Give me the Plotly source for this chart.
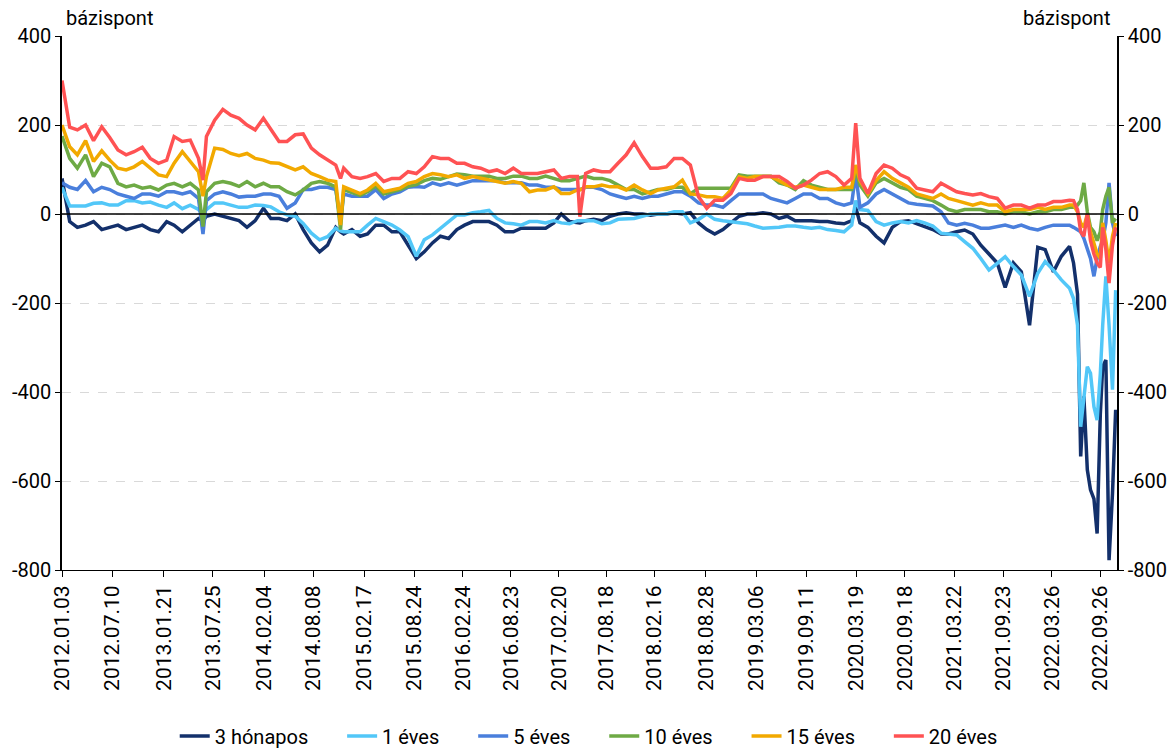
import plotly.graph_objects as go

# Observation dates (monthly, with a few extra dates around sharp moves)
dates = (
    ["2012-01-03", "2012-02-01", "2012-03-01", "2012-04-01", "2012-05-01", "2012-06-01",
     "2012-07-01", "2012-08-01", "2012-09-01", "2012-10-01", "2012-11-01", "2012-12-01"]
    + ["2013-01-01", "2013-02-01", "2013-03-01", "2013-04-01", "2013-05-01", "2013-06-01", "2013-06-18",
       "2013-07-01", "2013-08-01", "2013-09-01", "2013-10-01", "2013-11-01", "2013-12-01"]
    + ["2014-01-01", "2014-02-01", "2014-03-01", "2014-04-01", "2014-05-01", "2014-06-01",
       "2014-07-01", "2014-08-01", "2014-09-01", "2014-10-01", "2014-11-01", "2014-11-19", "2014-12-01"]
    + ["2015-01-01", "2015-02-01", "2015-03-01", "2015-04-01", "2015-05-01", "2015-06-01",
       "2015-07-01", "2015-08-01", "2015-09-01", "2015-10-01", "2015-11-01", "2015-12-01"]
    + ["2016-01-01", "2016-02-01", "2016-03-01", "2016-04-01", "2016-05-01", "2016-06-01",
       "2016-07-01", "2016-08-01", "2016-09-01", "2016-10-01", "2016-11-01", "2016-12-01"]
    + ["2017-01-01", "2017-02-01", "2017-03-01", "2017-04-01", "2017-05-01", "2017-05-10",
       "2017-06-01", "2017-07-01", "2017-08-01", "2017-09-01", "2017-10-01", "2017-11-01", "2017-12-01"]
    + ["2018-01-01", "2018-02-01", "2018-03-01", "2018-04-01", "2018-05-01", "2018-06-01",
       "2018-07-01", "2018-08-01", "2018-09-01", "2018-10-01", "2018-11-01", "2018-12-01"]
    + ["2019-01-01", "2019-02-01", "2019-03-01", "2019-04-01", "2019-05-01", "2019-06-01",
       "2019-07-01", "2019-08-01", "2019-09-01", "2019-10-01", "2019-11-01", "2019-12-01"]
    + ["2020-01-01", "2020-02-01", "2020-03-01", "2020-03-16", "2020-04-01", "2020-05-01",
       "2020-06-01", "2020-07-01", "2020-08-01", "2020-09-01", "2020-10-01", "2020-11-01", "2020-12-01"]
    + ["2021-01-01", "2021-02-01", "2021-03-01", "2021-04-01", "2021-05-01", "2021-06-01",
       "2021-07-01", "2021-08-01", "2021-09-01", "2021-10-01", "2021-11-01", "2021-12-01"]
    + ["2022-01-01", "2022-02-01", "2022-03-01", "2022-04-01", "2022-05-01", "2022-06-01",
       "2022-06-16", "2022-07-01", "2022-07-13", "2022-07-25", "2022-08-07", "2022-08-19",
       "2022-09-01", "2022-09-13", "2022-09-25", "2022-10-04", "2022-10-16", "2022-10-28",
       "2022-11-10", "2022-11-22"]
)

# Spreads in basis points
honapos_3 = (
    [80, -17, -30, -25, -17, -35, -30, -25, -35, -30, -25, -35]
    + [-40, -17, -25, -40, -25, -10, -15, -5, 0, -5, -8, -15, -30]
    + [-15, 13, -10, -10, -15, 0, -35, -65, -85, -70, -30, -40, -45]
    + [-35, -50, -45, -25, -25, -40, -40, -70, -100, -85, -65, -50]
    + [-55, -35, -25, -17, -17, -17, -25, -40, -40, -32, -32, -32]
    + [-32, -20, 0, -17, -20, -20, -15, -12, -15, -5, 0, 3, 0]
    + [0, -3, 0, 0, 3, 0, 3, -20, -35, -45, -35, -20]
    + [-5, 0, 0, 3, 0, -10, -5, -15, -15, -15, -17, -17]
    + [-20, -22, -15, 15, -20, -30, -50, -65, -30, -17, -15, -22, -30]
    + [-35, -45, -45, -40, -36, -45, -70, -90, -110, -165, -110, -130]
    + [-250, -75, -80, -130, -95, -73, -110, -180, -545, -410, -575, -620,
       -640, -718, -450, -343, -328, -778, -628, -440]
)

eves_1 = (
    [60, 18, 18, 18, 24, 25, 20, 20, 30, 30, 25, 27]
    + [20, 15, 25, 12, 20, 10, 2, 10, 25, 25, 20, 15, 15]
    + [20, 19, 16, 5, -2, -5, -21, -43, -58, -51, -32, -38, -40]
    + [-40, -40, -25, -10, -17, -25, -36, -51, -95, -58, -47, -32]
    + [-17, -2, -2, 3, 5, 8, -10, -20, -22, -25, -17, -17]
    + [-20, -15, -20, -22, -15, -15, -15, -15, -22, -20, -12, -10, -10]
    + [-5, 0, 0, 0, 5, 5, -20, -12, 0, -12, -15, -17]
    + [-20, -22, -27, -32, -31, -30, -27, -27, -30, -32, -30, -35]
    + [-37, -40, -25, 30, 10, 8, -17, -25, -20, -17, -20, -15, -20]
    + [-27, -43, -45, -47, -62, -77, -100, -126, -111, -96, -118, -137]
    + [-185, -133, -107, -126, -148, -167, -190, -250, -478, -418, -343, -358,
       -433, -463, -360, -250, -140, -250, -395, -171]
)

eves_5 = (
    [70, 60, 55, 75, 50, 60, 55, 45, 40, 35, 45, 45]
    + [40, 50, 50, 45, 50, 35, -45, 30, 45, 50, 45, 38, 40]
    + [40, 45, 45, 40, 13, 25, 55, 55, 60, 60, 55, -15, 45]
    + [40, 40, 40, 55, 35, 45, 50, 60, 62, 60, 70, 65]
    + [70, 65, 70, 75, 75, 75, 75, 70, 70, 70, 65, 65]
    + [60, 60, 55, 55, 55, 55, 60, 60, 55, 45, 40, 35, 40]
    + [35, 40, 40, 45, 50, 50, 40, 25, 20, 20, 15, 30]
    + [45, 45, 45, 45, 35, 30, 25, 35, 45, 45, 35, 35]
    + [25, 20, 25, 90, 15, 25, 45, 55, 45, 35, 25, 22, 20]
    + [18, 5, -20, -25, -21, -25, -32, -32, -28, -25, -30, -25]
    + [-32, -36, -30, -25, -25, -25, -30, -36, -40, -55, -80, -100,
       -140, -100, -73, -60, -20, 70, -20, -50]
)

eves_10 = (
    [175, 125, 103, 133, 84, 114, 106, 69, 61, 65, 58, 61]
    + [54, 65, 69, 61, 69, 54, -28, 50, 69, 73, 69, 62, 73]
    + [61, 69, 61, 61, 50, 43, 54, 69, 73, 69, 61, -35, 55]
    + [48, 42, 50, 63, 45, 50, 55, 62, 66, 75, 80, 78]
    + [85, 90, 88, 85, 85, 85, 80, 80, 85, 85, 80, 80]
    + [85, 80, 75, 75, 80, 80, 85, 80, 80, 75, 65, 55, 55]
    + [45, 50, 55, 55, 60, 60, 45, 58, 58, 58, 58, 58]
    + [88, 85, 85, 85, 85, 70, 65, 55, 75, 65, 60, 55]
    + [55, 55, 55, 100, 65, 40, 70, 80, 70, 60, 55, 40, 35]
    + [30, 20, 10, 5, 10, 10, 10, 5, 5, 0, 5, 5]
    + [0, 5, 5, 10, 10, 15, 15, 20, 30, 70, 5, -30,
       -40, -60, -40, 10, 40, 60, -20, -10]
)

eves_15 = (
    [200, 151, 133, 165, 118, 142, 121, 103, 99, 106, 118, 103]
    + [88, 84, 114, 140, 118, 95, 40, 84, 148, 145, 136, 131, 136]
    + [125, 121, 115, 114, 106, 99, 106, 91, 84, 76, 73, -25, 61]
    + [54, 46, 54, 69, 50, 54, 58, 69, 73, 84, 91, 88]
    + [84, 88, 80, 84, 80, 76, 73, 69, 73, 69, 50, 54]
    + [54, 61, 46, 46, 54, 54, 61, 61, 65, 61, 61, 54, 65]
    + [54, 46, 54, 58, 61, 76, 45, 43, 39, 39, 35, 54]
    + [84, 80, 84, 84, 84, 75, 65, 60, 65, 60, 55, 55]
    + [55, 60, 60, 110, 75, 45, 75, 95, 80, 70, 60, 45, 40]
    + [35, 45, 35, 30, 25, 20, 25, 20, 20, 5, 10, 10]
    + [10, 15, 10, 15, 15, 20, 20, 5, -20, -30, 0, -40,
       -70, -90, -100, -20, -60, -110, -50, -20]
)

eves_20 = (
    [300, 195, 189, 200, 165, 196, 172, 144, 133, 140, 150, 125]
    + [114, 121, 174, 163, 166, 125, 76, 174, 211, 235, 222, 215, 200]
    + [189, 215, 189, 163, 163, 178, 180, 148, 133, 121, 110, 80, 103]
    + [84, 80, 84, 91, 73, 80, 80, 95, 91, 106, 129, 125]
    + [125, 114, 114, 106, 103, 95, 99, 91, 103, 91, 91, 91]
    + [95, 99, 80, 84, 84, -6, 91, 99, 95, 95, 114, 133, 160]
    + [129, 103, 103, 106, 125, 125, 110, 39, 13, 31, 31, 46]
    + [80, 76, 76, 84, 84, 84, 73, 58, 65, 76, 91, 95]
    + [84, 65, 80, 204, 80, 46, 91, 110, 103, 88, 80, 58, 54]
    + [50, 69, 60, 50, 46, 43, 46, 39, 35, 13, 20, 20]
    + [13, 20, 20, 28, 28, 31, 30, 10, -40, -50, 0, -60,
       -90, -110, -120, -30, -80, -155, -70, -30]
)

series_names = ["3 hónapos", "1 éves", "5 éves", "10 éves", "15 éves", "20 éves"]
series_values = [honapos_3, eves_1, eves_5, eves_10, eves_15, eves_20]
series_colors = ["#13306B", "#52C7F8", "#4A7FDC", "#6EAA45", "#F2A900", "#FF5253"]

tick_dates = ["2012-01-03", "2012-07-10", "2013-01-21", "2013-07-25", "2014-02-04",
              "2014-08-08", "2015-02-17", "2015-08-24", "2016-02-24", "2016-08-23",
              "2017-02-20", "2017-08-18", "2018-02-16", "2018-08-28", "2019-03-06",
              "2019-09-11", "2020-03-19", "2020-09-18", "2021-03-22", "2021-09-23",
              "2022-03-26", "2022-09-26"]
tick_labels = [d.replace("-", ".") for d in tick_dates]

y_ticks = [-800, -600, -400, -200, 0, 200, 400]
y_tick_labels = [str(v) for v in y_ticks]

FONT = "Roboto"
PAD = "\u00a0" * 5 + "\u200a\u200a"

fig = go.Figure()
for name, vals, color in zip(series_names, series_values, series_colors):
    fig.add_trace(go.Scatter(
        x=dates, y=vals, name=name + PAD, mode="lines",
        line=dict(color=color, width=3.5),
    ))

# trace bound to the right-hand axis so that it is rendered
fig.add_trace(go.Scatter(x=[dates[0]], y=[None], yaxis="y2",
                         showlegend=False, hoverinfo="skip"))

y_common = dict(
    range=[-800, 400], tickmode="array", tickvals=y_ticks, ticktext=y_tick_labels,
    ticks="outside", ticklen=5, tickcolor="black",
    showline=True, linecolor="black", linewidth=1.5, zeroline=False,
)

fig.update_layout(
    width=1174, height=749,
    margin=dict(l=62, r=57, t=36, b=179, autoexpand=False),
    paper_bgcolor="white", plot_bgcolor="white",
    font=dict(family=FONT, size=20, color="black"),
    showlegend=True,
    legend=dict(orientation="h", x=0.513, xanchor="center", y=-0.311, yanchor="middle",
                font=dict(size=20), itemwidth=30, tracegroupgap=0),
    xaxis=dict(
        type="date", range=["2012-01-03", "2022-11-27"],
        tickmode="array", tickvals=tick_dates, ticktext=tick_labels,
        tickangle=-90, tickfont=dict(size=21),
        ticks="outside", ticklen=6, tickcolor="black",
        showline=True, linecolor="black", linewidth=1,
        showgrid=False, zeroline=False,
    ),
    yaxis=dict(**y_common, showgrid=True, gridcolor="#d9d9d9", griddash="dash", gridwidth=1),
    yaxis2=dict(**y_common, overlaying="y", side="right", showgrid=False),
    annotations=[
        dict(text="bázispont", xref="paper", yref="paper", x=0.002, y=1.034,
             xanchor="left", yanchor="middle", showarrow=False, font=dict(size=20)),
        dict(text="bázispont", xref="paper", yref="paper", x=0.995, y=1.034,
             xanchor="right", yanchor="middle", showarrow=False, font=dict(size=20)),
    ],
    shapes=[
        dict(type="line", xref="paper", yref="y", x0=0, x1=1, y0=0, y1=0,
             line=dict(color="black", width=1.5), layer="above"),
    ],
)

fig.write_html("out.html")
